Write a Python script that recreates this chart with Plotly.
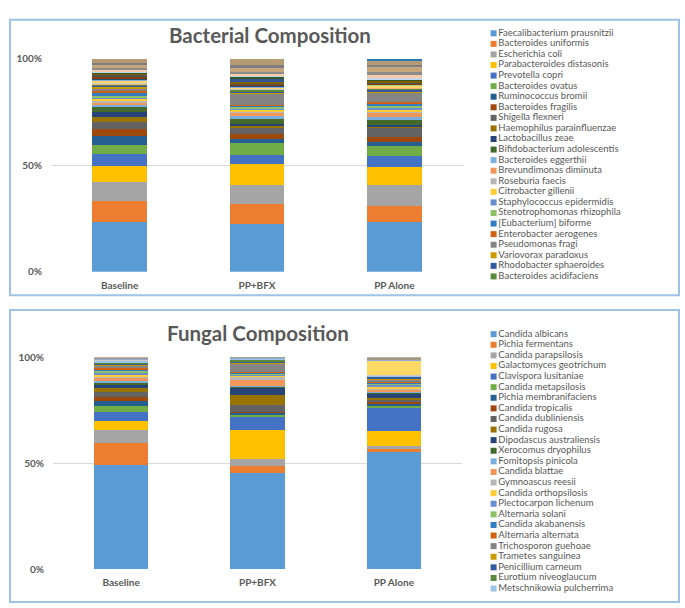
import plotly.graph_objects as go

W, H = 685, 608
groups = ["Baseline", "PP+BFX", "PP Alone"]

bact_names = [
    "Faecalibacterium prausnitzii", "Bacteroides uniformis", "Escherichia coli",
    "Parabacteroides distasonis", "Prevotella copri", "Bacteroides ovatus",
    "Ruminococcus bromii", "Bacteroides fragilis", "Shigella flexneri",
    "Haemophilus parainfluenzae", "Lactobacillus zeae", "Bifidobacterium adolescentis",
    "Bacteroides eggerthii", "Brevundimonas diminuta", "Roseburia faecis",
    "Citrobacter gillenii", "Staphylococcus epidermidis", "Stenotrophomonas rhizophila",
    "[Eubacterium] biforme", "Enterobacter aerogenes", "Pseudomonas fragi",
    "Variovorax paradoxus", "Rhodobacter sphaeroides", "Bacteroides acidifaciens",
]
# relative abundance (%) per group: Baseline, PP+BFX, PP Alone
bact_baseline = [23.4, 9.6, 9.3, 7.4, 5.7, 4.3, 3.9, 3.4, 3.4, 2.3, 2.3, 2.3,
                 1.2, 1.1, 0.9, 0.8, 0.8, 0.8, 0.8, 1.0, 1.5, 0.7, 0.6, 0.6]
bact_ppbfx = [22.2, 9.8, 8.8, 9.8, 4.2, 5.4, 2.3, 2.3, 2.6, 1.2, 0.8, 2.6,
              0.9, 1.4, 1.2, 0.8, 0.6, 0.6, 0.5, 0.5, 5.4, 0.5, 0.5, 0.6]
bact_ppalone = [23.4, 7.3, 10.1, 8.2, 5.1, 4.8, 2.0, 2.3, 4.2, 0.8, 0.5, 2.8,
                0.9, 2.2, 0.6, 0.9, 0.9, 0.9, 0.8, 0.6, 4.5, 0.6, 0.8, 0.8]
# remaining minor taxa (not listed in the legend)
bact_other_baseline = [0.5, 0.5, 0.8, 0.4, 0.3, 0.3, 0.3, 1.5, 0.4, 0.3, 0.3, 0.6,
                       0.8, 0.6, 1.7, 0.8, 1.8, 0.0]
bact_other_ppbfx = [0.3, 0.2, 0.6, 0.3, 0.2, 0.3, 0.2, 1.0, 0.3, 2.0, 0.3, 1.0,
                    0.6, 1.0, 2.0, 1.2, 3.0, 0.0]
bact_other_ppalone = [0.2, 0.2, 0.9, 0.2, 0.2, 0.2, 0.2, 0.3, 1.0, 0.3, 0.3, 0.8,
                      1.2, 1.5, 2.2, 1.2, 2.3, 0.5]

fung_names = [
    "Candida albicans", "Pichia fermentans", "Candida parapsilosis",
    "Galactomyces geotrichum", "Clavispora lusitaniae", "Candida metapsilosis",
    "Pichia membranifaciens", "Candida tropicalis", "Candida dubliniensis",
    "Candida rugosa", "Dipodascus australiensis", "Xerocomus dryophilus",
    "Fomitopsis pinicola", "Candida blattae", "Gymnoascus reesii",
    "Candida orthopsilosis", "Plectocarpon lichenum", "Alternaria solani",
    "Candida akabanensis", "Alternaria alternata", "Trichosporon guehoae",
    "Trametes sanguinea", "Penicillium carneum", "Eurotium niveoglaucum",
    "Metschnikowia pulcherrima",
]
fung_baseline = [49.4, 10.2, 6.4, 4.2, 4.2, 2.8, 2.4, 2.0, 2.4, 1.7, 1.7, 0.9,
                 0.9, 1.2, 0.8, 0.9, 0.9, 0.8, 0.6, 0.9, 0.8, 0.6, 0.6, 0.6, 0.6]
fung_ppbfx = [45.5, 3.4, 3.3, 13.8, 5.8, 1.1, 1.1, 0.3, 3.4, 4.5, 3.6, 0.3,
              0.3, 3.1, 1.3, 0.5, 0.8, 0.3, 0.5, 0.2, 3.8, 0.5, 0.9, 0.5, 0.6]
fung_ppalone = [55.3, 1.4, 1.3, 6.9, 11.1, 0.8, 1.2, 0.8, 1.1, 0.8, 2.0, 0.6,
                0.5, 0.8, 0.6, 0.5, 1.1, 0.5, 0.8, 0.3, 0.9, 0.3, 0.9, 0.3, 0.3]
fung_other_baseline = [0.3, 0.3, 0.2, 0.2, 0.2, 0.6]
fung_other_ppbfx = [0.1, 0.1, 0.1, 0.1, 0.1, 0.3]
fung_other_ppalone = [0.3, 0.3, 6.7, 0.2, 0.2, 1.1]

palette = ['#5B9BD5', '#ED7D31', '#A5A5A5', '#FFC000', '#4472C4', '#70AD47',
           '#255E91', '#9E480E', '#636363', '#997300', '#264478', '#43682B',
           '#7CAFDD', '#F1975A', '#B7B7B7', '#FFCD33', '#698ED0', '#8CC168',
           '#327DC2', '#D26012', '#848484', '#CC9A00', '#335AA1', '#5A8A39',
           '#9DC3E6']
bact_other_colors = ['#F4B183', '#C9C9C9', '#FFD966', '#8FAADC', '#A9D18E', '#1F4E79',
                     '#843C0C', '#525252', '#7F6000', '#2F5597', '#385723', '#BDD7EE',
                     '#F8CBAD', '#8C8C8C', '#C5A67C', '#7F7F7F', '#B59B73', '#2E75B6']
fung_other_colors = ['#F4B183', '#C9C9C9', '#FFD966', '#8FAADC', '#A9D18E', '#A39A85']

GREY = '#595959'
FONT = 'Lato'

fig = go.Figure()


def add_stack(values_by_group, names, colors, xa, ya):
    for i, name in enumerate(names):
        fig.add_trace(go.Bar(
            x=groups, y=[v[i] for v in values_by_group], name=name,
            marker=dict(color=colors[i], line=dict(width=0)),
            xaxis=xa, yaxis=ya, showlegend=False))


bact_main = [bact_baseline, bact_ppbfx, bact_ppalone]
bact_other = [bact_other_baseline, bact_other_ppbfx, bact_other_ppalone]
add_stack(bact_main, bact_names, palette, 'x', 'y')
add_stack(bact_other, [f"Other bacteria {k+1}" for k in range(len(bact_other_colors))],
          bact_other_colors, 'x', 'y')

fung_main = [fung_baseline, fung_ppbfx, fung_ppalone]
fung_other = [fung_other_baseline, fung_other_ppbfx, fung_other_ppalone]
add_stack(fung_main, fung_names, palette, 'x2', 'y2')
add_stack(fung_other, [f"Other fungi {k+1}" for k in range(len(fung_other_colors))],
          fung_other_colors, 'x2', 'y2')


# legends drawn as marker+text scatters
def add_legend(names, xa, ya):
    fig.add_trace(go.Scatter(
        x=[0] * len(names), y=list(range(len(names))), mode='markers+text',
        marker=dict(symbol='square', size=6, color=palette[:len(names)]),
        text=names, textposition='middle right',
        textfont=dict(family=FONT, size=9.5, color=GREY),
        cliponaxis=False, hoverinfo='skip', showlegend=False,
        xaxis=xa, yaxis=ya))


add_legend(bact_names, 'x3', 'y3')
add_legend(fung_names, 'x4', 'y4')

F = 1.015  # small vertical stretch about the page centre


def Y(p):
    return 304 + (p - 304) * F


def py(p):
    return 1 - p / H


def px(p):
    return p / W


yax = dict(range=[0, 100], tickvals=[0, 50, 100], ticktext=['0%', '50%', '100%'],
           showgrid=True, gridcolor='#D9D9D9', gridwidth=1, zeroline=False,
           showline=False, ticks='', ticklabelstandoff=8,
           tickfont=dict(family=FONT, size=10, color=GREY, weight='bold'))
xax = dict(showgrid=False, zeroline=False, showline=False, ticks='',
           ticklabelstandoff=6,
           tickfont=dict(family=FONT, size=10, color=GREY, weight='bold'))
hid = dict(visible=False, showgrid=False, zeroline=False, fixedrange=True)

fig.update_layout(
    width=W, height=H, margin=dict(l=0, r=0, t=0, b=0),
    paper_bgcolor='white', plot_bgcolor='white',
    barmode='stack', barnorm='percent', bargap=0.6,
    font=dict(family=FONT, color=GREY),
    xaxis=dict(domain=[px(51), px(463)], anchor='y', **xax),
    yaxis=dict(domain=[py(Y(270.5)), py(Y(56.5))], anchor='x', **yax),
    xaxis2=dict(domain=[px(53), px(462)], anchor='y2', **xax),
    yaxis2=dict(domain=[py(Y(569.5)), py(Y(356.5))], anchor='x2', **yax),
    xaxis3=dict(domain=[px(493.6), px(680)], range=[0, 10], anchor='y3', **hid),
    yaxis3=dict(domain=[py(Y(280.6)), py(Y(25.6))], range=[len(bact_names) - 0.5, -0.5],
                anchor='x3', **hid),
    xaxis4=dict(domain=[px(493.6), px(680)], range=[0, 10], anchor='y4', **hid),
    yaxis4=dict(domain=[py(Y(594.3)), py(Y(328.0))], range=[len(fung_names) - 0.5, -0.5],
                anchor='x4', **hid),
    shapes=[
        dict(type='rect', xref='paper', yref='paper', x0=px(10), x1=px(679),
             y0=py(294), y1=py(13), line=dict(color='#9DC3E6', width=2)),
        dict(type='rect', xref='paper', yref='paper', x0=px(10), x1=px(679),
             y0=py(607), y1=py(309), line=dict(color='#9DC3E6', width=2)),
    ],
    annotations=[
        dict(text='Bacterial Composition', xref='paper', yref='paper',
             x=px(270), y=py(Y(33)), showarrow=False, xanchor='center', yanchor='middle',
             font=dict(family=FONT, size=20.5, color=GREY, weight='bold')),
        dict(text='Fungal Composition', xref='paper', yref='paper',
             x=px(258), y=py(Y(332)), showarrow=False, xanchor='center', yanchor='middle',
             font=dict(family=FONT, size=20.5, color=GREY, weight='bold')),
    ],
)

fig.write_html("out.html")
